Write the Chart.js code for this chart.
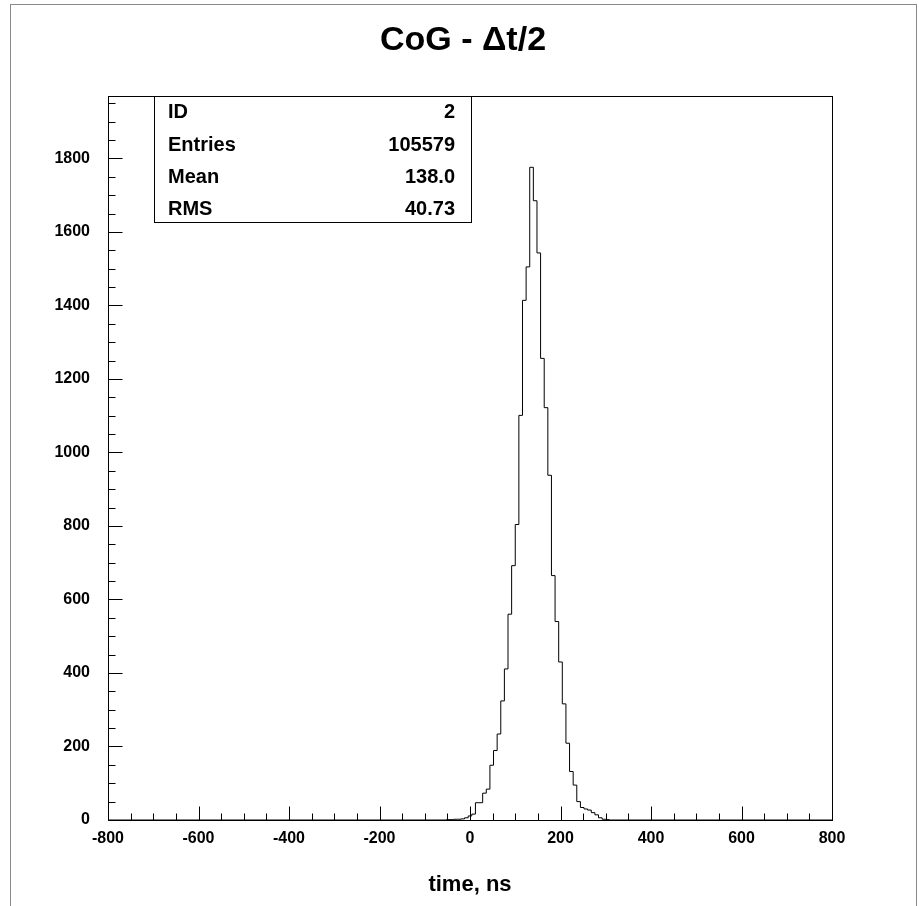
<!DOCTYPE html>
<html>
<head>
<meta charset="utf-8">
<script src="https://cdn.jsdelivr.net/npm/chart.js@4/dist/chart.umd.min.js"></script>
<style>
  html, body { margin: 0; padding: 0; background: #fff; }
</style>
</head>
<body>
<canvas id="myChart" width="919" height="906"></canvas>
<script>
// histogram bins: width 8 ns, first listed bin starts at -52
const binWidth = 8;
const firstBinEdge = -52;
const counts = [
  1, 1, 2, 2, 3, 6, 11, 16, 47, 47,
  73, 84, 149, 189, 234, 324, 411, 560, 692, 804,
  1101, 1414, 1505, 1776, 1685, 1543, 1256, 1122, 938, 665,
  540, 430, 316, 209, 132, 95, 50, 34, 30, 27,
  20, 14, 6, 2, 1
];
const xRange = [-800, 800];
const yRange = [0, 1970];
const xTicks = [-800, -600, -400, -200, 0, 200, 400, 600, 800];
const yTicks = [0, 200, 400, 600, 800, 1000, 1200, 1400, 1600, 1800];
const minorStep = 50;
const titleText = 'CoG - \u0394t/2';
const statNames = ['ID', 'Entries', 'Mean', 'RMS'];
const statValues = ['2', '105579', '138.0', '40.73'];

const FONT = "'Liberation Sans', Arial, Helvetica, sans-serif";

const points = [{ x: xRange[0], y: 0 }];
for (let i = 0; i < counts.length; i++) {
  points.push({ x: firstBinEdge + i * binWidth, y: counts[i] });
}
points.push({ x: firstBinEdge + counts.length * binWidth, y: 0 });
points.push({ x: xRange[1], y: 0 });

// frame, inner ticks, stats box, title, canvas border (ROOT look)
const rootFrame = {
  id: 'rootFrame',
  beforeDraw(chart) {
    const ctx = chart.ctx;
    ctx.save();
    ctx.strokeStyle = '#888';
    ctx.lineWidth = 1;
    ctx.strokeRect(10.5, 4.5, 906, 920);
    ctx.fillStyle = '#000';
    ctx.font = 'bold 34px ' + FONT;
    ctx.textAlign = 'center';
    ctx.textBaseline = 'middle';
    ctx.fillText(titleText, 463, 41);
    ctx.restore();
  },
  afterDraw(chart) {
    const { ctx, chartArea: a, scales: { x, y } } = chart;
    const L = Math.round(a.left) + 0.5, R = Math.round(a.right) + 0.5;
    const T = Math.round(a.top) + 0.5, B = Math.round(a.bottom) + 0.5;
    ctx.save();
    ctx.strokeStyle = '#000';
    ctx.lineWidth = 1;
    ctx.strokeRect(L, T, R - L, B - T);
    ctx.beginPath();
    for (let v = xRange[0]; v <= xRange[1]; v += minorStep) {
      const px = Math.round(x.getPixelForValue(v)) + 0.5;
      const len = xTicks.includes(v) ? 14 : 7;
      ctx.moveTo(px, B);
      ctx.lineTo(px, B - len);
    }
    for (let v = yRange[0]; v <= yRange[1]; v += minorStep) {
      const py = Math.round(y.getPixelForValue(v)) + 0.5;
      const len = yTicks.includes(v) ? 14 : 7;
      ctx.moveTo(L, py);
      ctx.lineTo(L + len, py);
    }
    ctx.stroke();

    // stats box
    const bx = 154.5, by = T, bw = 317, bh = 126;
    ctx.fillStyle = '#fff';
    ctx.fillRect(bx, by, bw, bh);
    ctx.strokeRect(bx, by, bw, bh);
    ctx.fillStyle = '#000';
    ctx.font = 'bold 20px ' + FONT;
    ctx.textBaseline = 'middle';
    const rowY = [112, 145, 177, 209];
    for (let i = 0; i < statNames.length; i++) {
      ctx.textAlign = 'left';
      ctx.fillText(statNames[i], 168, rowY[i]);
      ctx.textAlign = 'right';
      ctx.fillText(statValues[i], 455, rowY[i]);
    }
    ctx.restore();
  }
};

const ctx = document.getElementById('myChart');

new Chart(ctx, {
  type: 'line',
  data: {
    datasets: [{
      data: points,
      stepped: true,
      borderColor: '#000',
      borderWidth: 1,
      pointRadius: 0,
      fill: false
    }]
  },
  options: {
    responsive: false,
    animation: false,
    layout: { padding: { left: 0, right: 87, top: 96, bottom: 0 } },
    plugins: {
      legend: { display: false },
      tooltip: { enabled: false },
      title: { display: false }
    },
    scales: {
      x: {
        type: 'linear',
        min: xRange[0],
        max: xRange[1],
        afterFit: (s) => { s.height = 86; },
        afterBuildTicks: (s) => { s.ticks = xTicks.map(v => ({ value: v })); },
        grid: { display: false, drawTicks: false },
        border: { display: false },
        ticks: {
          color: '#000',
          padding: 9,
          maxRotation: 0,
          autoSkip: false,
          callback: (v) => String(v),
          font: { family: FONT, size: 16, weight: 'bold' }
        },
        title: {
          display: true,
          text: 'time, ns',
          color: '#000',
          font: { family: FONT, size: 22, weight: 'bold', lineHeight: 1.2 },
          padding: { top: 0, bottom: 8 }
        }
      },
      y: {
        min: yRange[0],
        max: yRange[1],
        afterFit: (s) => { s.width = 108; },
        afterBuildTicks: (s) => { s.ticks = yTicks.map(v => ({ value: v })); },
        grid: { display: false, drawTicks: false },
        border: { display: false },
        ticks: {
          color: '#000',
          padding: 18,
          callback: (v) => String(v),
          font: { family: FONT, size: 16, weight: 'bold' }
        }
      }
    }
  },
  plugins: [rootFrame]
});
</script>
</body>
</html>
